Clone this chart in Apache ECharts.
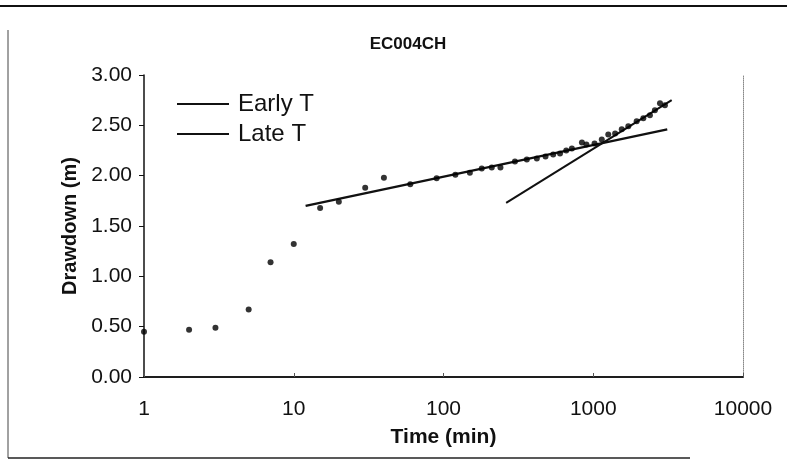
<!DOCTYPE html>
<html>
<head>
<meta charset="utf-8">
<script src="https://cdn.jsdelivr.net/npm/echarts@6/dist/echarts.min.js"></script>
<style>html,body{margin:0;padding:0;background:#fff}#c{width:787px;height:466px}</style>
</head>
<body>
<div id="c"></div>
<script>
const chartTitle = "EC004CH";
const xAxisTitle = "Time (min)";
const yAxisTitle = "Drawdown (m)";
const yTicks = [0, 0.5, 1, 1.5, 2, 2.5, 3];

const obsTime = [1, 2, 3, 5, 7, 10, 15, 20, 30, 40, 60, 90, 120, 150, 180, 210, 240, 300, 360, 420, 480, 540, 600, 660, 720, 840, 900, 1020, 1140, 1260, 1400, 1550, 1715, 1950, 2160, 2390, 2580, 2790, 3010];
const obsDrawdown = [0.45, 0.47, 0.49, 0.67, 1.14, 1.32, 1.68, 1.74, 1.88, 1.98, 1.915, 1.975, 2.01, 2.03, 2.07, 2.08, 2.08, 2.14, 2.16, 2.17, 2.19, 2.21, 2.22, 2.25, 2.27, 2.33, 2.31, 2.32, 2.36, 2.41, 2.42, 2.46, 2.49, 2.54, 2.57, 2.60, 2.65, 2.72, 2.70];

const earlyTTime = [12, 3120];
const earlyTDrawdown = [1.70, 2.46];
const lateTTime = [262, 3340];
const lateTDrawdown = [1.73, 2.75];

const pairs = (a, b) => a.map((v, i) => [v, b[i]]);
const font = "Liberation Sans, Arial, sans-serif";

const chart = echarts.init(document.getElementById('c'), null, {renderer: 'canvas'});
chart.setOption({
  animation: false,
  backgroundColor: '#fff',
  title: {
    text: chartTitle, left: 403, top: 31, textAlign: 'center',
    textStyle: {fontFamily: "Liberation Sans Narrow, Liberation Sans, Arial", fontSize: 17, fontWeight: 'bold', color: '#111'}
  },
  legend: {
    left: 172, top: 87, orient: 'vertical', itemGap: 6,
    itemWidth: 52, itemHeight: 2, icon: 'rect',
    data: ['Early T', 'Late T'],
    textStyle: {fontFamily: font, fontSize: 24, color: '#111', padding: [0, 0, 0, 4]}
  },
  grid: {left: 144, right: 44, top: 75, bottom: 89},
  xAxis: [{
    type: 'log', logBase: 10, min: 1, max: 10000,
    name: xAxisTitle, nameLocation: 'middle', nameGap: 50,
    nameTextStyle: {fontFamily: font, fontSize: 21, fontWeight: 'bold', color: '#111'},
    axisLine: {lineStyle: {color: '#111', width: 1.5}},
    axisTick: {show: true, inside: true, length: 4, lineStyle: {color: '#555'}},
    minorTick: {show: false},
    axisLabel: {fontFamily: font, fontSize: 21, color: '#111', margin: 22, formatter: v => String(Math.round(v))},
    splitLine: {show: false}
  }, {
    type: 'log', logBase: 10, min: 1, max: 10000, position: 'top',
    axisLine: {show: true, lineStyle: {color: '#111', width: 1.5}},
    axisTick: {show: false}, axisLabel: {show: false}, splitLine: {show: false}
  }],
  yAxis: [{
    type: 'value', min: 0, max: 3, interval: 0.5,
    name: yAxisTitle, nameLocation: 'middle', nameGap: 58, nameRotate: 90,
    nameTextStyle: {fontFamily: font, fontSize: 20, fontWeight: 'bold', color: '#111'},
    axisLine: {show: true, lineStyle: {color: '#111', width: 1.5}},
    axisTick: {show: true, length: 5, lineStyle: {color: '#111'}},
    axisLabel: {fontFamily: font, fontSize: 21, color: '#111', margin: 12, formatter: v => v.toFixed(2)},
    splitLine: {show: false}
  }, {
    type: 'value', min: 0, max: 3, interval: 0.5, position: 'right',
    axisLine: {show: true, lineStyle: {color: '#888', width: 1, type: 'dotted'}},
    axisTick: {show: false}, axisLabel: {show: false}, splitLine: {show: false}
  }],
  graphic: [
    {type: 'line', shape: {x1: 0, y1: 6, x2: 787, y2: 6}, style: {stroke: '#111', lineWidth: 2}, silent: true},
    {type: 'line', shape: {x1: 8, y1: 30, x2: 8, y2: 458}, style: {stroke: '#444', lineWidth: 1}, silent: true},
    {type: 'line', shape: {x1: 8, y1: 458, x2: 690, y2: 458}, style: {stroke: '#222', lineWidth: 1.5}, silent: true}
  ],
  series: [
    {
      name: 'Observed', type: 'scatter', data: pairs(obsTime, obsDrawdown),
      symbol: 'circle', symbolSize: 6, itemStyle: {color: '#000'}, z: 3
    },
    {
      name: 'Early T', type: 'line', data: pairs(earlyTTime, earlyTDrawdown),
      showSymbol: false, symbol: 'none', lineStyle: {color: '#111', width: 2.5}, itemStyle: {color: '#111'}, z: 2
    },
    {
      name: 'Late T', type: 'line', data: pairs(lateTTime, lateTDrawdown),
      showSymbol: false, symbol: 'none', lineStyle: {color: '#111', width: 2}, itemStyle: {color: '#111'}, z: 2
    }
  ]
});
</script>
</body>
</html>
